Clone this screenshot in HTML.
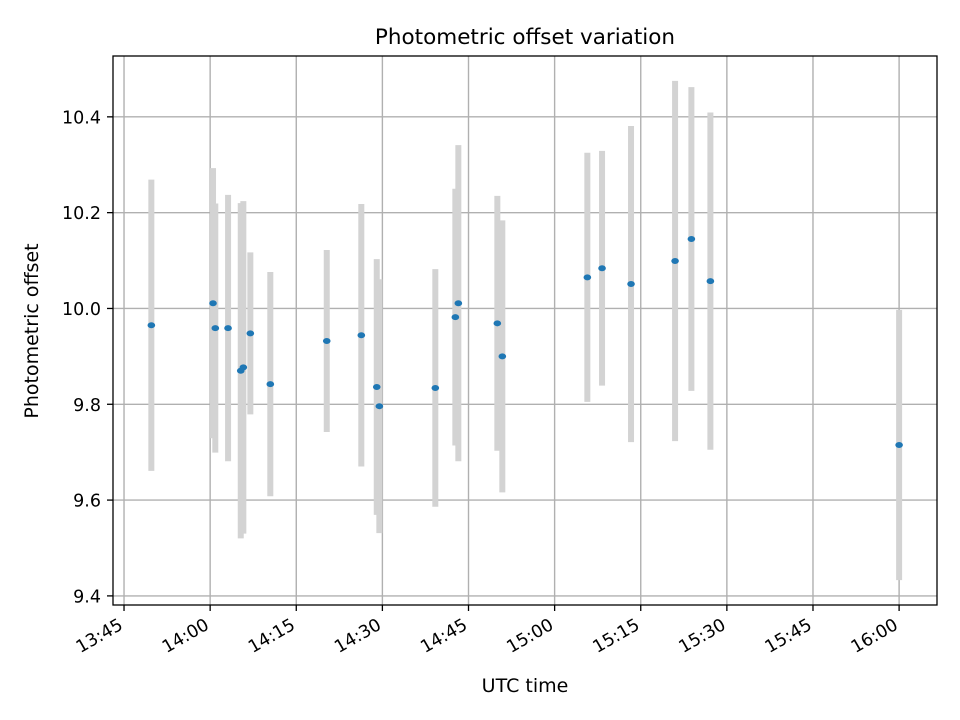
<!DOCTYPE html>
<html><head><meta charset="utf-8"><style>
html,body{margin:0;padding:0;background:#fff;}
svg{display:block;font-family:"DejaVu Sans","Liberation Sans",sans-serif;}
</style></head><body>
<svg id="chart" width="960" height="720" viewBox="0 0 960 720">
<rect x="0" y="0" width="960" height="720" fill="#fff"/>
<g id="grid"></g>
<g id="errbars"></g>
<g id="points"></g>
<rect x="113" y="56" width="824" height="549" fill="none" stroke="#000" stroke-width="1.3"/>
<g id="xticks"></g>
<g id="yticks"></g>
<text x="525" y="44" font-size="21.5" text-anchor="middle" fill="#000">Photometric offset variation</text>
<text x="525" y="692" font-size="19" text-anchor="middle" fill="#000">UTC time</text>
<text x="0" y="0" font-size="19" text-anchor="middle" fill="#000" transform="translate(38,331) rotate(-90)">Photometric offset</text>
</svg>
<script>
// minutes after 13:45
const times = [4.76,15.50,15.90,18.12,20.33,20.78,22.0,25.48,35.31,41.33,44.02,44.47,54.22,57.71,58.23,65.02,65.89,80.70,83.26,88.31,95.98,98.82,102.13,135.0];
const offsets = [9.965,10.011,9.959,9.959,9.870,9.877,9.948,9.842,9.932,9.944,9.836,9.796,9.834,9.982,10.011,9.969,9.900,10.065,10.084,10.051,10.099,10.145,10.057,9.715];
const errors = [0.304,0.282,0.26,0.278,0.35,0.347,0.169,0.234,0.19,0.274,0.267,0.265,0.248,0.268,0.33,0.266,0.284,0.26,0.245,0.33,0.376,0.317,0.352,0.282];
const xTickMinutes = [0,15,30,45,60,75,90,105,120,135];
const xTickLabels = ["13:45","14:00","14:15","14:30","14:45","15:00","15:15","15:30","15:45","16:00"];
const yTickValues = [9.4,9.6,9.8,10.0,10.2,10.4];
const yTickLabels = ["9.4","9.6","9.8","10.0","10.2","10.4"];

const L=113,R=937,T=56,B=605;
const xMin=-1.92,xMax=141.6,yMin=9.381,yMax=10.527;
function xs(m){return L+(m-xMin)/(xMax-xMin)*(R-L);}
function ys(v){return B-(v-yMin)/(yMax-yMin)*(B-T);}
const NS="http://www.w3.org/2000/svg";
function mk(tag,attrs,parent){const e=document.createElementNS(NS,tag);for(const k in attrs)e.setAttribute(k,attrs[k]);parent.appendChild(e);return e;}
const grid=document.getElementById('grid'),eb=document.getElementById('errbars'),pts=document.getElementById('points'),xt=document.getElementById('xticks'),yt=document.getElementById('yticks');
xTickMinutes.forEach((m,i)=>{
  const x=xs(m);
  const g=mk('line',{x1:x,x2:x,y1:T,y2:B,stroke:'#b0b0b0','stroke-width':1.4},grid);
  
  
  const t=mk('line',{x1:x,x2:x,y1:B,y2:B+6,stroke:'#000','stroke-width':1.3},xt);
  
  
  const lb=mk('text',{x:0,y:14,'font-size':17.5,'text-anchor':'end',fill:'#000',transform:'translate('+(x-7)+',616) rotate(-30)'},xt);
  lb.textContent=xTickLabels[i];
  
  
});
yTickValues.forEach((v,i)=>{
  const y=ys(v);
  const g=mk('line',{x1:L,x2:R,y1:y,y2:y,stroke:'#b0b0b0','stroke-width':1.4},grid);
  
  
  const t=mk('line',{x1:L-6,x2:L,y1:y,y2:y,stroke:'#000','stroke-width':1.3},yt);
  
  
  const lb=mk('text',{x:L-12,y:y+6.5,'font-size':17.5,'text-anchor':'end',fill:'#000'},yt);
  lb.textContent=yTickLabels[i];
  
  
});
times.forEach((m,i)=>{
  const x=xs(m);
  const b=mk('line',{x1:x,x2:x,y1:ys(offsets[i]+errors[i]),y2:ys(offsets[i]-errors[i]),stroke:'#d3d3d3','stroke-width':6},eb);
  
  
  const p=mk('ellipse',{cx:x,cy:ys(offsets[i]),rx:3.8,ry:3,fill:'#1f77b4'},pts);
  
  
});
</script>
</body></html>
